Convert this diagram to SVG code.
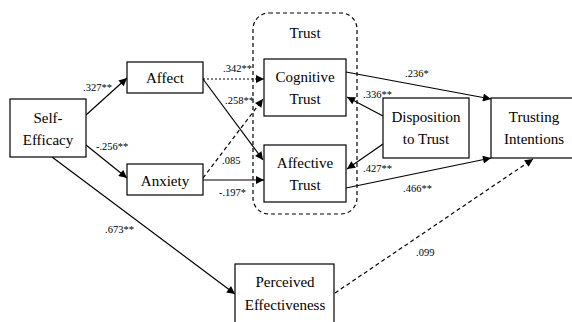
<svg xmlns="http://www.w3.org/2000/svg" width="572" height="322" viewBox="0 0 572 322">
<style>
.box{fill:#fff;stroke:#000;stroke-width:1.2}
.t{font-family:"Liberation Serif","Times New Roman",serif;font-size:15px;text-anchor:middle;fill:#000}
.n{font-family:"Liberation Serif","Times New Roman",serif;font-size:10.5px;fill:#000}
.c{stroke:#000;stroke-width:1.2;fill:none}
.dot{stroke-dasharray:2 2}
.dash{stroke-dasharray:4 3}
</style>
<defs>
<marker id="ah" viewBox="0 0 10 10" refX="10" refY="5" markerWidth="9" markerHeight="8" markerUnits="userSpaceOnUse" orient="auto">
<path d="M0,0 L10,5 L0,10 z" fill="#000"/>
</marker>
</defs>
<rect width="572" height="322" fill="#fff"/>
<g id="trust-group">
<rect x="253" y="13" width="104" height="201" rx="16" fill="none" stroke="#000" stroke-width="1.2" stroke-dasharray="4 3"/>
<text class="t" x="305" y="38" font-size="14">Trust</text>
</g>
<g id="connectors">
<line class="c" x1="86" y1="115" x2="127" y2="78" marker-end="url(#ah)"/>
<line class="c" x1="86" y1="145" x2="127" y2="178" marker-end="url(#ah)"/>
<line class="c" x1="52" y1="157" x2="235" y2="294" marker-end="url(#ah)"/>
<line class="c dot" x1="203" y1="79" x2="264" y2="79" marker-end="url(#ah)"/>
<line class="c" x1="203" y1="79" x2="263" y2="160" marker-end="url(#ah)"/>
<line class="c dash" x1="203" y1="178" x2="263" y2="99" marker-end="url(#ah)"/>
<line class="c" x1="203" y1="180" x2="264" y2="180" marker-end="url(#ah)"/>
<line class="c" x1="346" y1="72" x2="491" y2="99" marker-end="url(#ah)"/>
<line class="c" x1="383" y1="116" x2="347" y2="97" marker-end="url(#ah)"/>
<line class="c" x1="383" y1="144" x2="347" y2="169" marker-end="url(#ah)"/>
<line class="c" x1="346" y1="188" x2="491" y2="158" marker-end="url(#ah)"/>
<line class="c dash" x1="335" y1="293" x2="533" y2="159" marker-end="url(#ah)"/>
<text class="n" x="83" y="91">.327**</text>
<text class="n" x="96" y="150">-.256**</text>
<text class="n" x="105" y="233">.673**</text>
<text class="n" x="223" y="72">.342**</text>
<text class="n" x="225" y="104">.258**</text>
<text class="n" x="222" y="164">.085</text>
<text class="n" x="219" y="196">-.197*</text>
<text class="n" x="405" y="77">.236*</text>
<text class="n" x="363" y="98">.336**</text>
<text class="n" x="363" y="172">.427**</text>
<text class="n" x="403" y="192">.466**</text>
<text class="n" x="416" y="256">.099</text>
</g>
<g id="self-efficacy">
<rect class="box" x="10" y="99" width="76" height="58"/>
<text class="t" x="48" y="123">Self-</text>
<text class="t" x="48" y="145">Efficacy</text>
</g>
<g id="affect">
<rect class="box" x="127" y="62" width="76" height="31"/>
<text class="t" x="165" y="83">Affect</text>
</g>
<g id="anxiety">
<rect class="box" x="127" y="164" width="76" height="31"/>
<text class="t" x="165" y="186">Anxiety</text>
</g>
<g id="cognitive-trust">
<rect class="box" x="264" y="59" width="82" height="57"/>
<text class="t" x="305" y="82">Cognitive</text>
<text class="t" x="305" y="104">Trust</text>
</g>
<g id="affective-trust">
<rect class="box" x="264" y="145" width="82" height="57"/>
<text class="t" x="305" y="168">Affective</text>
<text class="t" x="305" y="190">Trust</text>
</g>
<g id="disposition">
<rect class="box" x="383" y="98" width="86" height="60"/>
<text class="t" x="426" y="122">Disposition</text>
<text class="t" x="426" y="144">to Trust</text>
</g>
<g id="trusting-intentions">
<rect class="box" x="491" y="98" width="84" height="60"/>
<text class="t" x="534" y="122">Trusting</text>
<text class="t" x="534" y="144">Intentions</text>
</g>
<g id="perceived-effectiveness">
<rect class="box" x="235" y="264" width="99" height="62"/>
<text class="t" x="285" y="287">Perceived</text>
<text class="t" x="285" y="310">Effectiveness</text>
</g>
</svg>
